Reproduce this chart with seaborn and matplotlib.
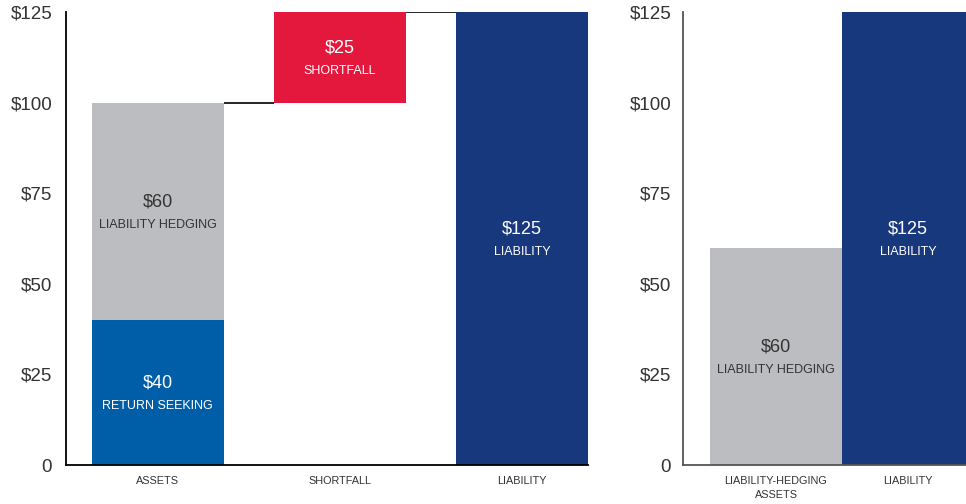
import matplotlib
matplotlib.use("Agg")
import matplotlib.pyplot as plt
from matplotlib import font_manager
import pandas as pd
import seaborn as sns

# ---- data -------------------------------------------------------------
left_categories = ["ASSETS", "SHORTFALL", "LIABILITY"]
left_segments = ["RETURN SEEKING", "LIABILITY HEDGING", "SHORTFALL", "LIABILITY"]
left_segment_cats = ["ASSETS", "ASSETS", "SHORTFALL", "LIABILITY"]
left_values = [40, 60, 25, 125]
left_bases = [0, 40, 100, 0]

right_categories = ["LIABILITY-HEDGING\nASSETS", "LIABILITY"]
right_segments = ["LIABILITY HEDGING", "LIABILITY"]
right_values = [60, 125]

y_ticks = [0, 25, 50, 75, 100, 125]
y_tick_labels = ["0", "$25", "$50", "$75", "$100", "$125"]

# ---- styling ------------------------------------------------------------
colors = {
    "RETURN SEEKING": "#005EA8",
    "LIABILITY HEDGING": "#BCBDC0",
    "SHORTFALL": "#E3183C",
    "LIABILITY": "#17387D",
}
text_on = {
    "RETURN SEEKING": "white",
    "LIABILITY HEDGING": "#333333",
    "SHORTFALL": "white",
    "LIABILITY": "white",
}

sns.set_theme(style="white")
installed = {f.name for f in font_manager.fontManager.ttflist}
narrow = "Liberation Sans Narrow" if "Liberation Sans Narrow" in installed else "Liberation Sans"
plt.rcParams["font.family"] = ["Liberation Sans", "DejaVu Sans"]

W, H = 966, 504
fig = plt.figure(figsize=(W / 100, H / 100), dpi=100)
fig.patch.set_facecolor("white")

ax_l = fig.add_axes([66 / W, 39 / H, (588 - 66) / W, (465 - 12) / H])
ax_r = fig.add_axes([683 / W, 39 / H, (966 - 683) / W, (465 - 12) / H])

TEXT = "#333333"


def draw_panel(ax, cats, seg_names, seg_cats, values, bases, width):
    for name, cat, val, base in zip(seg_names, seg_cats, values, bases):
        df = pd.DataFrame({"cat": [cat], "value": [val]})
        n_before = len(ax.patches)
        sns.barplot(data=df, x="cat", y="value", order=cats, color=colors[name],
                    width=width, saturation=1, ax=ax, errorbar=None)
        bar = ax.patches[n_before]
        bar.set_y(base)
        bar.set_height(val)
        bar.set_linewidth(0)
        xc = bar.get_x() + bar.get_width() / 2
        yc = base + val / 2
        ax.annotate(f"${val}", (xc, yc), xytext=(0, 7), textcoords="offset points",
                    ha="center", va="center", fontsize=13, color=text_on[name])
        ax.annotate(name, (xc, yc), xytext=(0, -10), textcoords="offset points",
                    ha="center", va="center", fontsize=9, family=[narrow, "DejaVu Sans"],
                    color=text_on[name])


def style_axes(ax, spine_color, pad):
    ax.set_ylim(0, 125)
    ax.set_yticks(y_ticks)
    ax.set_yticklabels(y_tick_labels)
    ax.set_xlabel("")
    ax.set_ylabel("")
    sns.despine(ax=ax, top=True, right=True)
    for s in ("left", "bottom"):
        ax.spines[s].set_color(spine_color)
        ax.spines[s].set_linewidth(1.3)
    ax.tick_params(axis="y", length=0, pad=pad, labelsize=13.5, labelcolor=TEXT)
    ax.tick_params(axis="x", length=0, pad=8, labelsize=7.8, labelcolor=TEXT)
    for lbl in ax.get_xticklabels():
        lbl.set_family([narrow, "DejaVu Sans"])
        lbl.set_linespacing(1.45)
    ax.grid(False)
    ax.set_facecolor("white")


# left panel: stacked assets, floating shortfall, liability
w_left = 0.723
draw_panel(ax_l, left_categories, left_segments, left_segment_cats,
           left_values, left_bases, w_left)
ax_l.set_xlim(-0.504, 2 + w_left / 2)
style_axes(ax_l, "black", 10)

# connectors between successive bar tops
assets_top = left_values[0] + left_values[1]
shortfall_top = left_bases[2] + left_values[2]
ax_l.hlines(assets_top, 0 + w_left / 2, 1 - w_left / 2, color="black", lw=1.2, zorder=3)
ax_l.hlines(shortfall_top, 1 + w_left / 2, 2 - w_left / 2, color="black", lw=1.2, zorder=3)

# right panel: hedging assets vs liability
draw_panel(ax_r, right_categories, right_segments, right_categories,
           right_values, [0, 0], 1.0)
ax_r.set_xlim(-0.705, 1.439)
style_axes(ax_r, "#555555", 8.5)

fig.savefig("out.png", dpi=100, facecolor="white")
